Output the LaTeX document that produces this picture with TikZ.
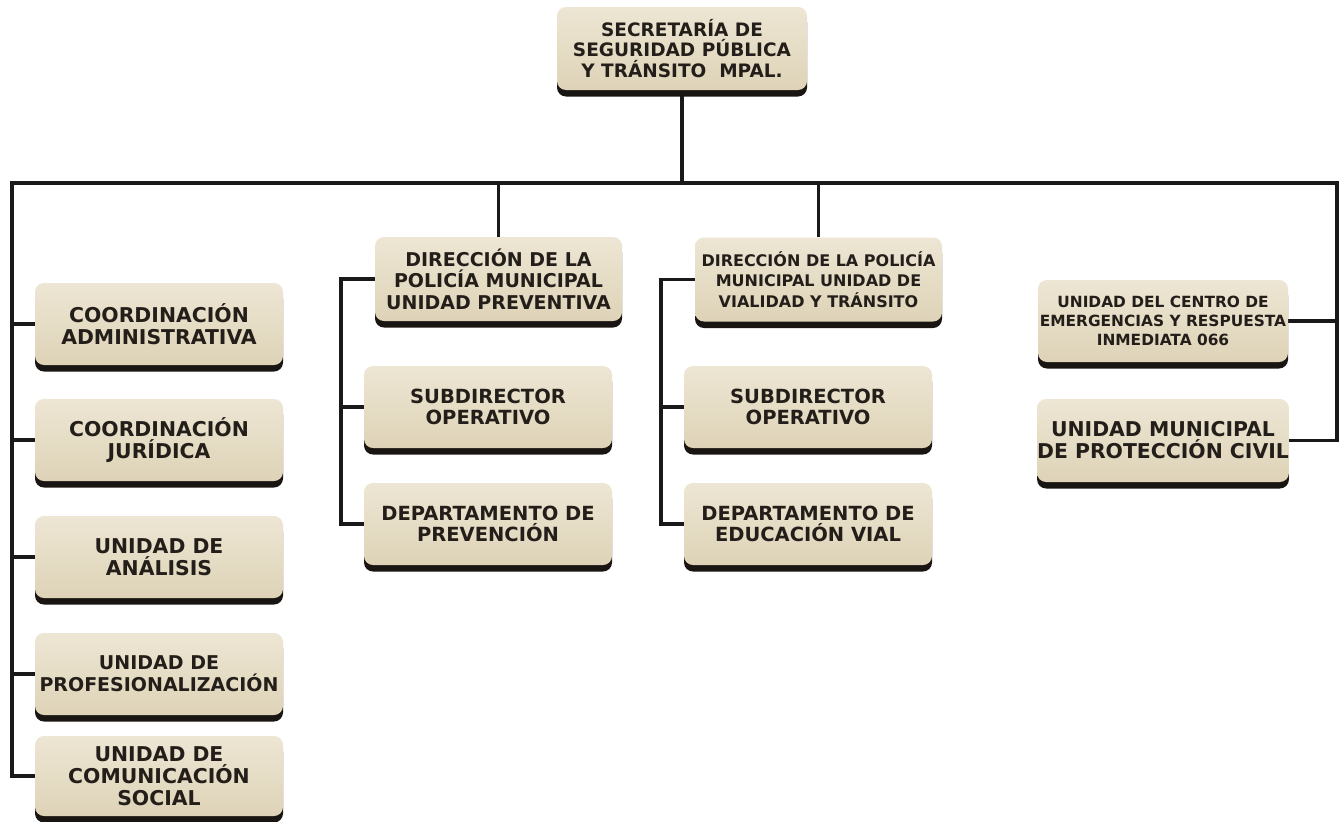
\documentclass[tikz,border=0pt]{standalone}
\usepackage{fontspec}
\setmainfont{DejaVu Sans}
\usetikzlibrary{shadows,backgrounds}
\definecolor{boxtop}{RGB}{237,230,212}
\definecolor{boxbot}{RGB}{222,211,183}
\definecolor{shadowc}{RGB}{25,21,18}
\definecolor{txt}{RGB}{35,30,25}
\definecolor{linec}{RGB}{25,25,25}
\tikzset{
  orgbox/.style={rounded corners=9pt, top color=boxtop, bottom color=boxbot, draw=none,
    general shadow={fill=shadowc, shadow yshift=-6.5pt}, text=txt, align=center,
    inner sep=0pt, minimum height=82pt},
  ftwenty/.style={font=\bfseries\fontsize{20.4}{22}\selectfont},
  fnineteen/.style={font=\bfseries\fontsize{19.5}{21.7}\selectfont},
  ftop/.style={font=\bfseries\fontsize{18.5}{20.5}\selectfont},
  fsmall/.style={font=\bfseries\fontsize{16}{20.8}\selectfont},
  fcentro/.style={font=\bfseries\fontsize{15.4}{19}\selectfont},
  conn/.style={draw=linec, line width=3.4pt}
}
\begin{document}
\begin{tikzpicture}[x=1pt,y=-1pt]
\useasboundingbox (0,0) rectangle (1342,822);
% top
\node[orgbox, ftop, minimum width=250pt, minimum height=83pt] (top) at (682,48.5) {SECRETARÍA DE\\SEGURIDAD PÚBLICA\\Y TRÁNSITO \ MPAL.};
% left column
\node[orgbox, ftwenty, minimum width=248pt] (admin) at (159,324) {COORDINACIÓN\\ADMINISTRATIVA};
\node[orgbox, ftwenty, minimum width=248pt] (jur) at (159,440) {COORDINACIÓN\\JURÍDICA};
\node[orgbox, ftwenty, minimum width=248pt] (ana) at (159,557) {UNIDAD DE\\ANÁLISIS};
\node[orgbox, font=\bfseries\fontsize{19}{22}\selectfont, minimum width=248pt] (prof) at (159,674) {UNIDAD DE\\PROFESIONALIZACIÓN};
\node[orgbox, ftwenty, minimum width=248pt, minimum height=80pt] (com) at (159,776) {UNIDAD DE\\COMUNICACIÓN\\SOCIAL};
% middle column 1
\node[orgbox, font=\bfseries\fontsize{19}{21.5}\selectfont, minimum width=247pt, minimum height=84pt] (dir1) at (498.5,279) {DIRECCIÓN DE LA\\POLICÍA MUNICIPAL\\UNIDAD PREVENTIVA};
\node[orgbox, fnineteen, minimum width=248pt] (sub1) at (488,407) {SUBDIRECTOR\\OPERATIVO};
\node[orgbox, fnineteen, minimum width=248pt] (dep1) at (488,524) {DEPARTAMENTO DE\\PREVENCIÓN};
% middle column 2
\node[orgbox, fsmall, minimum width=247pt, minimum height=84pt] (dir2) at (818.5,279.5) {DIRECCIÓN DE LA POLICÍA\\MUNICIPAL UNIDAD DE\\VIALIDAD Y TRÁNSITO};
\node[orgbox, fnineteen, minimum width=248pt] (sub2) at (808,407) {SUBDIRECTOR\\OPERATIVO};
\node[orgbox, fnineteen, minimum width=248pt] (dep2) at (808,524) {DEPARTAMENTO DE\\EDUCACIÓN VIAL};
% right column
\node[orgbox, fcentro, minimum width=250pt] (centro) at (1163,321) {UNIDAD DEL CENTRO DE\\EMERGENCIAS Y RESPUESTA\\INMEDIATA 066};
\node[orgbox, ftwenty, minimum width=250pt, minimum height=83pt] (civil) at (1163,440.5) {UNIDAD MUNICIPAL\\DE PROTECCIÓN CIVIL};
% connectors
\coordinate (hl) at (12,183);
\coordinate (hr) at (1337,183);
\coordinate (b1) at (341,524);
\coordinate (b2) at (661,524);
\begin{pgfonlayer}{background}
\fill[white] (0,0) rectangle (1342,822);
\draw[conn] (top.south) -- (top.south |- hl);
\draw[conn] (com.west) -| (hl) -- (hr) |- (civil.east);
\draw[conn] (admin.west) -- (admin.west -| hl);
\draw[conn] (jur.west) -- (jur.west -| hl);
\draw[conn] (ana.west) -- (ana.west -| hl);
\draw[conn] (prof.west) -- (prof.west -| hl);
\draw[conn] (centro.east) -- (centro.east -| hr);
\draw[conn] (dir1.north) -- (dir1.north |- hl);
\draw[conn] (dir2.north) -- (dir2.north |- hl);
\draw[conn] (dir1.west) -| (b1) -- (dep1.west);
\draw[conn] (sub1.west) -- (sub1.west -| b1);
\draw[conn] (dir2.west) -| (b2) -- (dep2.west);
\draw[conn] (sub2.west) -- (sub2.west -| b2);
\end{pgfonlayer}
\end{tikzpicture}
\end{document}
